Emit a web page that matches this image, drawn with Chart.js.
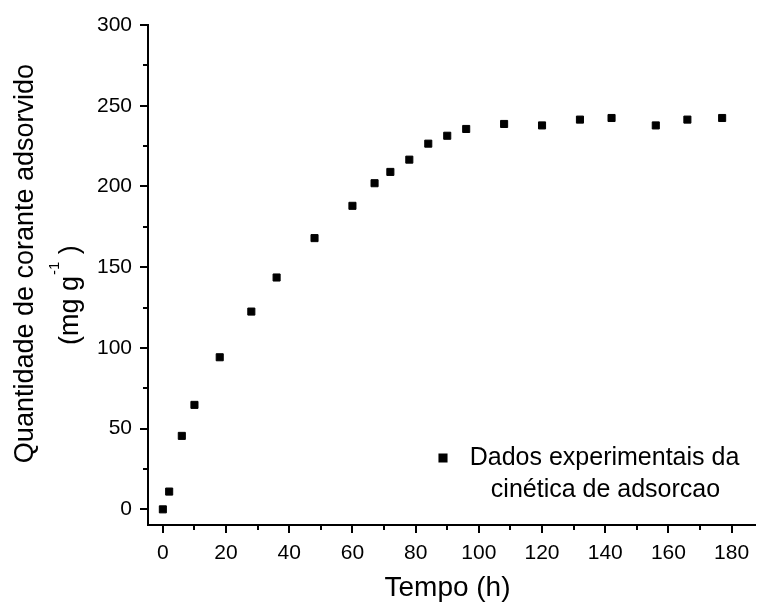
<!DOCTYPE html>
<html>
<head>
<meta charset="utf-8">
<script src="https://cdn.jsdelivr.net/npm/chart.js@4"></script>
<style>
  html, body { margin: 0; padding: 0; background: #fff; }
  #wrap { width: 761px; height: 603px; }
</style>
</head>
<body>
<div id="wrap"><canvas id="kineticsChart" width="761" height="603"></canvas></div>
<script>
// adsorption kinetics data
const times = [0, 2, 6, 10, 18, 28, 36, 48, 60, 67, 72, 78, 84, 90, 96, 108, 120, 132, 142, 156, 166, 177];
const amounts = [0, 11, 45.5, 64.7, 94.2, 122.5, 143.6, 168, 188, 202, 209, 216.6, 226.5, 231.4, 235.6, 238.7, 237.8, 241.4, 242.4, 237.8, 241.4, 242.4];

const xTicks = [0, 20, 40, 60, 80, 100, 120, 140, 160, 180];
const yTicks = [0, 50, 100, 150, 200, 250, 300];
const xMinorTicks = [10, 30, 50, 70, 90, 110, 130, 150, 170];
const yMinorTicks = [25, 75, 125, 175, 225, 275];

const xTitle = "Tempo (h)";
const yTitle = ["Quantidade de corante adsorvido", "(mg g", "-1", " )"];
const legendLines = ["Dados experimentais da", "cinética de adsorcao"];

const FONT = '"Liberation Sans", Arial, sans-serif';

document.addEventListener("DOMContentLoaded", function () {
    const points = times.map((t, i) => ({ x: t, y: amounts[i] }));

    // minor ticks, axis titles and the legend box
    const extras = {
        id: "extras",
        afterDraw(chart) {
            const ctx = chart.ctx;
            const xs = chart.scales.x;
            const ys = chart.scales.y;
            ctx.save();
            ctx.strokeStyle = "#000";
            ctx.lineWidth = 2;
            xMinorTicks.forEach(v => {
                const px = Math.round(xs.getPixelForValue(v));
                ctx.beginPath();
                ctx.moveTo(px, xs.top);
                ctx.lineTo(px, xs.top + 5);
                ctx.stroke();
            });
            yMinorTicks.forEach(v => {
                const py = Math.round(ys.getPixelForValue(v));
                ctx.beginPath();
                ctx.moveTo(ys.right, py);
                ctx.lineTo(ys.right - 5, py);
                ctx.stroke();
            });

            ctx.fillStyle = "#000";
            ctx.textBaseline = "alphabetic";

            // x title
            ctx.font = "28px " + FONT;
            ctx.textAlign = "center";
            ctx.fillText(xTitle, 447.5, 596);

            // y title, line 1
            ctx.save();
            ctx.translate(33, 263.5);
            ctx.rotate(-Math.PI / 2);
            ctx.font = "27px " + FONT;
            ctx.textAlign = "center";
            ctx.fillText(yTitle[0], 0, 0);
            ctx.restore();

            // y title, line 2 with superscript
            ctx.save();
            ctx.translate(78, 345);
            ctx.rotate(-Math.PI / 2);
            ctx.textAlign = "left";
            ctx.font = "27px " + FONT;
            ctx.fillText(yTitle[1], 0, 0);
            let w = ctx.measureText(yTitle[1]).width;
            ctx.font = "15px " + FONT;
            ctx.fillText(yTitle[2], w + 1, -19);
            w += ctx.measureText(yTitle[2]).width + 1;
            ctx.font = "27px " + FONT;
            ctx.fillText(yTitle[3], w, 0);
            ctx.restore();

            // legend
            Chart.helpers.drawPoint(ctx, { pointStyle: "rect", radius: 5, borderWidth: 1 }, 443, 458);
            ctx.font = "25px " + FONT;
            ctx.textAlign = "center";
            ctx.fillText(legendLines[0], 604.5, 465);
            ctx.fillText(legendLines[1], 605.5, 497);
            ctx.restore();
        }
    };

    const ctx = document.getElementById("kineticsChart").getContext("2d");
    new Chart(ctx, {
        type: "scatter",
        data: {
            datasets: [{
                label: legendLines.join(" "),
                data: points,
                pointStyle: "rect",
                pointRadius: 5,
                pointHoverRadius: 5,
                borderWidth: 1,
                borderColor: "#000",
                backgroundColor: "#000"
            }]
        },
        options: {
            responsive: false,
            devicePixelRatio: 1,
            animation: false,
            layout: { padding: { top: 25, right: 0, bottom: 0, left: 0 } },
            plugins: {
                legend: { display: false },
                tooltip: { enabled: false }
            },
            scales: {
                x: {
                    type: "linear",
                    min: -4.7,
                    max: 187.4,
                    afterBuildTicks: scale => { scale.ticks = xTicks.map(v => ({ value: v })); },
                    afterFit: scale => { scale.height = 78; },
                    border: { display: true, color: "#000", width: 2 },
                    grid: { drawOnChartArea: false, drawTicks: true, tickLength: 8, color: "#000", lineWidth: 2 },
                    ticks: { color: "#000", padding: 8, maxRotation: 0, font: { family: FONT, size: 21 } }
                },
                y: {
                    type: "linear",
                    min: -9.7,
                    max: 300,
                    afterBuildTicks: scale => { scale.ticks = yTicks.map(v => ({ value: v })); },
                    afterFit: scale => { scale.width = 148; },
                    border: { display: true, color: "#000", width: 2 },
                    grid: { drawOnChartArea: false, drawTicks: true, tickLength: 8, color: "#000", lineWidth: 2 },
                    ticks: { color: "#000", padding: 8, font: { family: FONT, size: 21 } }
                }
            }
        },
        plugins: [extras]
    });
});
</script>
</body>
</html>
